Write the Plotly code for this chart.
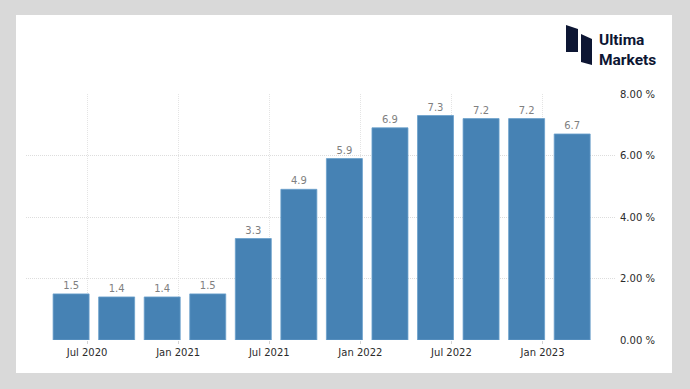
import plotly.graph_objects as go

# ---- data ----
quarters = ["Q2 2020", "Q3 2020", "Q4 2020", "Q1 2021", "Q2 2021", "Q3 2021",
            "Q4 2021", "Q1 2022", "Q2 2022", "Q3 2022", "Q4 2022", "Q1 2023"]
values = [1.5, 1.4, 1.4, 1.5, 3.3, 4.9, 5.9, 6.9, 7.3, 7.2, 7.2, 6.7]
tick_labels = ["Jul 2020", "Jan 2021", "Jul 2021", "Jan 2022", "Jul 2022", "Jan 2023"]
tick_quarter_index = [0, 2, 4, 6, 8, 10]   # quarter each label falls in
tick_offset = 0.35                          # fraction of a quarter into that bar's period
y_ticks = [0, 2, 4, 6, 8]

# ---- layout geometry (pixels) ----
W, H = 690, 389
L, R, T, B = 26, 75, 94, 49
PW, PH = W - L - R, H - T - B


def fx(px):
    return (px - L) / PW


def fy(py):
    return (H - B - py) / PH


positions = list(range(len(quarters)))
tickvals = [i + tick_offset for i in tick_quarter_index]

fig = go.Figure()
fig.add_trace(go.Bar(
    x=positions,
    y=values,
    width=0.79,
    marker=dict(color="#4682b4", line=dict(color="#6a9fcc", width=0.8)),
    text=[f"{v:.1f}" for v in values],
    textposition="outside",
    textfont=dict(family="DejaVu Sans", size=10, color="#808080"),
    cliponaxis=False,
    hovertext=quarters,
))

font_family = "DejaVu Sans"
fig.update_layout(
    width=W, height=H, autosize=False,
    margin=dict(l=L, r=R, t=T, b=B, pad=0),
    paper_bgcolor="#d9d9d9",
    plot_bgcolor="rgba(0,0,0,0)",
    showlegend=False,
    bargap=0.2,
    font=dict(family=font_family, size=10, color="#2b2b2b"),
    xaxis=dict(
        range=[-0.99, 11.94],
        tickvals=tickvals,
        ticktext=tick_labels,
        showgrid=True,
        gridcolor="#e4e4e4",
        griddash="1px,1px",
        gridwidth=1,
        zeroline=False,
        showline=False,
        ticks="outside",
        ticklen=3,
        tickcolor="#d4d4d4",
        tickfont=dict(family=font_family, size=10, color="#2b2b2b"),
    ),
    yaxis=dict(
        range=[0, 8],
        side="right",
        tickvals=y_ticks,
        ticktext=[f"{v:.2f} %" for v in y_ticks],
        showgrid=True,
        gridcolor="#dddddd",
        griddash="1px,1px",
        gridwidth=1,
        zeroline=False,
        showline=False,
        ticks="",
        ticklabelstandoff=4,
        tickfont=dict(family=font_family, size=10, color="#2b2b2b"),
    ),
)

# white panel
fig.add_shape(type="rect", xref="paper", yref="paper",
              x0=fx(16), x1=fx(672), y0=fy(373), y1=fy(15),
              fillcolor="white", line=dict(width=0), layer="below")

# logo icon
navy = "#0d1633"


def path(pts):
    return "M " + " L ".join(f"{fx(x):.5f},{fy(y):.5f}" for x, y in pts) + " Z"


fig.add_shape(type="path", xref="paper", yref="paper",
              path=path([(566, 25), (578, 29), (578, 52), (566, 52)]),
              fillcolor=navy, line=dict(width=0), layer="above")
fig.add_shape(type="path", xref="paper", yref="paper",
              path=path([(581, 34), (592, 39), (592, 65), (581, 62)]),
              fillcolor=navy, line=dict(width=0), layer="above")

fig.add_annotation(xref="paper", yref="paper", x=fx(597), y=fy(50),
                   xanchor="left", yanchor="middle", align="left",
                   showarrow=False,
                   text="<b>Ultima</b><br><b>Markets</b>",
                   font=dict(family="Roboto", size=15.5, color=navy))

fig.write_html("out.html", config={"displayModeBar": False},
               post_script="document.body.style.margin='0';")
